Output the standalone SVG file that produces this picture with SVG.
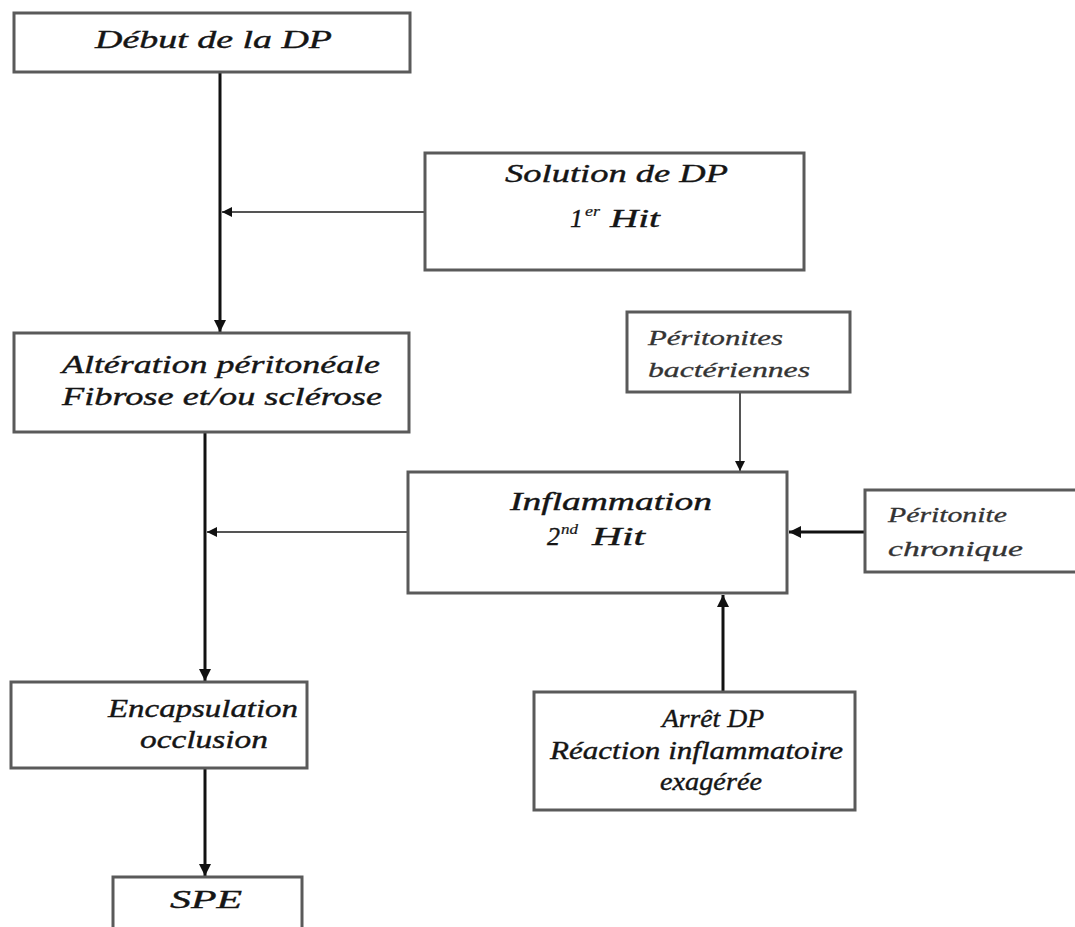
<svg xmlns="http://www.w3.org/2000/svg" width="1075" height="927" viewBox="0 0 1075 927">
<style>
.box{fill:#fff;stroke:#5a5a5a;stroke-width:3}
.t{font-family:"Liberation Serif","Times New Roman",serif;font-style:italic;font-size:26px;fill:#151515;stroke:#151515;stroke-width:0.4}
.sup{font-family:"Liberation Serif","Times New Roman",serif;font-style:italic;font-size:14px;fill:#151515;stroke:#151515;stroke-width:0.2}
.s{font-family:"Liberation Serif","Times New Roman",serif;font-style:italic;font-size:21px;fill:#333;stroke:#333;stroke-width:0.3}
.c{stroke:#111;stroke-width:3;fill:none}
.cg{stroke:#555;stroke-width:2;fill:none}
</style>
<defs>
<marker id="ah" viewBox="0 0 10 10" refX="10" refY="5" markerWidth="4" markerHeight="4" orient="auto" markerUnits="strokeWidth"><path d="M0,0 L10,5 L0,10 z" fill="#111"/></marker>
<marker id="ahg" viewBox="0 0 10 10" refX="10" refY="5" markerWidth="5" markerHeight="5" orient="auto" markerUnits="strokeWidth"><path d="M0,0 L10,5 L0,10 z" fill="#111"/></marker>
</defs>
<g id="connectors">
<line class="c" x1="220" y1="72" x2="220" y2="332" marker-end="url(#ah)"/>
<line class="cg" x1="425" y1="212" x2="222" y2="212" marker-end="url(#ahg)"/>
<line class="c" x1="205" y1="432" x2="205" y2="681" marker-end="url(#ah)"/>
<line class="cg" x1="408" y1="532" x2="207" y2="532" marker-end="url(#ahg)"/>
<line class="cg" x1="740" y1="392" x2="740" y2="471" marker-end="url(#ahg)"/>
<line class="c" x1="865" y1="532" x2="789" y2="532" marker-end="url(#ah)"/>
<line class="c" x1="723" y1="692" x2="723" y2="595" marker-end="url(#ah)"/>
<line class="c" x1="205" y1="768" x2="205" y2="876" marker-end="url(#ah)"/>
</g>
<g id="debut"><rect class="box" x="14" y="13" width="396" height="59"/><text class="t" x="95" y="48" textLength="237" lengthAdjust="spacingAndGlyphs">Début de  la DP</text></g>
<g id="solution"><rect class="box" x="425" y="153" width="379" height="117"/><text class="t" x="505" y="182" textLength="223" lengthAdjust="spacingAndGlyphs">Solution de DP</text><text class="t" x="570" y="227" textLength="13" lengthAdjust="spacingAndGlyphs">1</text><text class="sup" x="585" y="216" textLength="15" lengthAdjust="spacingAndGlyphs">er</text><text class="t" x="610" y="227" textLength="50" lengthAdjust="spacingAndGlyphs">Hit</text></g>
<g id="alteration"><rect class="box" x="14" y="333" width="395" height="99"/><text class="t" x="62" y="373" textLength="318" lengthAdjust="spacingAndGlyphs">Altération péritonéale</text><text class="t" x="62" y="405" textLength="320" lengthAdjust="spacingAndGlyphs">Fibrose et/ou sclérose</text></g>
<g id="peritonites"><rect class="box" x="627" y="312" width="223" height="80"/><text class="s" x="648" y="345" textLength="135" lengthAdjust="spacingAndGlyphs">Péritonites</text><text class="s" x="648" y="377" textLength="162" lengthAdjust="spacingAndGlyphs">bactériennes</text></g>
<g id="inflammation"><rect class="box" x="408" y="472" width="379" height="121"/><text class="t" x="510" y="510" textLength="202" lengthAdjust="spacingAndGlyphs">Inflammation</text><text class="t" x="547" y="545" textLength="13" lengthAdjust="spacingAndGlyphs">2</text><text class="sup" x="561" y="534" textLength="17" lengthAdjust="spacingAndGlyphs">nd</text><text class="t" x="592" y="545" textLength="53" lengthAdjust="spacingAndGlyphs">Hit</text></g>
<g id="chronique"><rect class="box" x="865" y="490" width="212" height="82"/><text class="s" x="888" y="522" textLength="119" lengthAdjust="spacingAndGlyphs">Péritonite</text><text class="s" x="888" y="556" textLength="135" lengthAdjust="spacingAndGlyphs">chronique</text></g>
<g id="encapsulation"><rect class="box" x="11" y="682" width="296" height="86"/><text class="t" x="108" y="717" textLength="190" lengthAdjust="spacingAndGlyphs">Encapsulation</text><text class="t" x="140" y="748" textLength="128" lengthAdjust="spacingAndGlyphs">occlusion</text></g>
<g id="arret"><rect class="box" x="534" y="692" width="321" height="118"/><text class="t" x="662" y="727" textLength="102" lengthAdjust="spacingAndGlyphs">Arrêt DP</text><text class="t" x="550" y="759" textLength="293" lengthAdjust="spacingAndGlyphs">Réaction inflammatoire</text><text class="t" x="660" y="790" textLength="102" lengthAdjust="spacingAndGlyphs">exagérée</text></g>
<g id="spe"><rect class="box" x="113" y="877" width="189" height="70"/><text class="t" x="170" y="908" textLength="72" lengthAdjust="spacingAndGlyphs">SPE</text></g>
</svg>
